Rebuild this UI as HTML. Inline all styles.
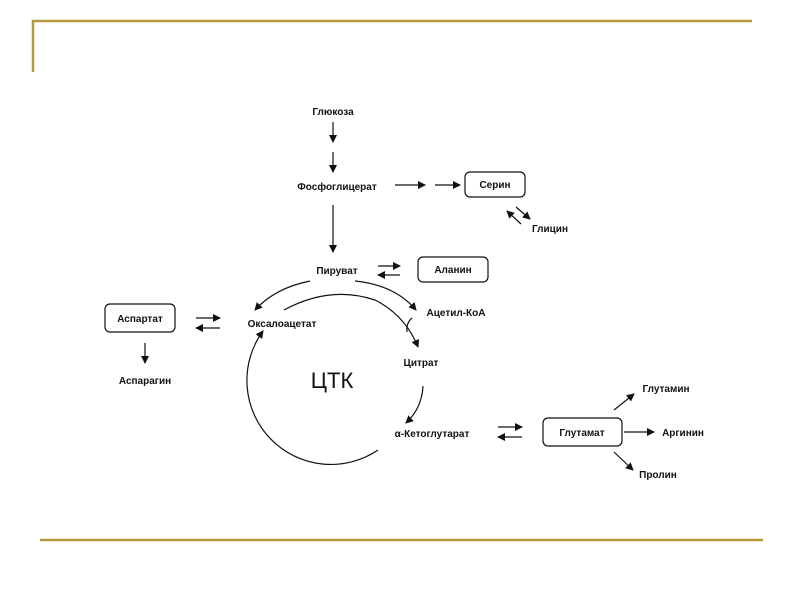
<!DOCTYPE html>
<html><head><meta charset="utf-8"><style>
html,body{margin:0;padding:0;background:#fff;}
svg{display:block;}
text{font-family:"Liberation Sans",sans-serif;font-size:10px;fill:#111;font-weight:bold;}
</style></head><body>
<svg width="800" height="600" viewBox="0 0 800 600" xmlns="http://www.w3.org/2000/svg">
<defs>
<marker id="a" markerWidth="8" markerHeight="8" refX="7" refY="4" orient="auto" markerUnits="userSpaceOnUse">
<path d="M0,0 L8,4 L0,8 Z" fill="#111"/></marker>
</defs>
<g fill="none" stroke="#b39a3e" stroke-width="2.5">
<path d="M33,72 V21 H752"/>
<path d="M40,540 H763"/>
</g>
<g stroke="#111" stroke-width="1.2" fill="none">
<line x1="333" y1="122" x2="333" y2="142" marker-end="url(#a)"/>
<line x1="333" y1="152" x2="333" y2="172" marker-end="url(#a)"/>
<line x1="395" y1="185" x2="425" y2="185" marker-end="url(#a)"/>
<line x1="435" y1="185" x2="460" y2="185" marker-end="url(#a)"/>
<line x1="516" y1="207" x2="530" y2="219" marker-end="url(#a)"/>
<line x1="521" y1="224" x2="507" y2="211" marker-end="url(#a)"/>
<line x1="333" y1="205" x2="333" y2="252" marker-end="url(#a)"/>
<line x1="378" y1="266" x2="400" y2="266" marker-end="url(#a)"/>
<line x1="400" y1="275" x2="378" y2="275" marker-end="url(#a)"/>
<line x1="196" y1="318" x2="220" y2="318" marker-end="url(#a)"/>
<line x1="220" y1="328" x2="196" y2="328" marker-end="url(#a)"/>
<line x1="145" y1="343" x2="145" y2="363" marker-end="url(#a)"/>
<line x1="498" y1="427" x2="522" y2="427" marker-end="url(#a)"/>
<line x1="522" y1="437" x2="498" y2="437" marker-end="url(#a)"/>
<line x1="614" y1="410" x2="634" y2="394" marker-end="url(#a)"/>
<line x1="624" y1="432" x2="654" y2="432" marker-end="url(#a)"/>
<line x1="614" y1="452" x2="633" y2="470" marker-end="url(#a)"/>
<path d="M310,281 Q275,288 255,310" marker-end="url(#a)"/>
<path d="M355,281 Q395,285 416,310" marker-end="url(#a)"/>
<path d="M284,310 Q330,285 375,300 Q405,315 418,347" marker-end="url(#a)"/>
<path d="M412,318 Q406,323 407,332"/>
<path d="M423,386 Q422,408 406,423" marker-end="url(#a)"/>
<path d="M378,450 A84,84 0 0 1 263,331" marker-end="url(#a)"/>
<rect x="465" y="172" width="60" height="25" rx="5"/>
<rect x="418" y="257" width="70" height="25" rx="5"/>
<rect x="105" y="304" width="70" height="28" rx="5"/>
<rect x="543" y="418" width="79" height="28" rx="5"/>
</g>
<g text-anchor="middle">
<text x="333" y="115">Глюкоза</text>
<text x="337" y="190">Фосфоглицерат</text>
<text x="495" y="188">Серин</text>
<text x="550" y="232">Глицин</text>
<text x="337" y="274">Пируват</text>
<text x="453" y="273">Аланин</text>
<text x="140" y="322">Аспартат</text>
<text x="282" y="327">Оксалоацетат</text>
<text x="145" y="384">Аспарагин</text>
<text x="456" y="316">Ацетил-КоА</text>
<text x="421" y="366">Цитрат</text>
<text x="432" y="437">α-Кетоглутарат</text>
<text x="582" y="436">Глутамат</text>
<text x="666" y="392">Глутамин</text>
<text x="683" y="436">Аргинин</text>
<text x="658" y="478">Пролин</text>
<text x="332" y="388" style="font-size:22px;font-weight:normal">ЦТК</text>
</g>
</svg>
</body></html>
